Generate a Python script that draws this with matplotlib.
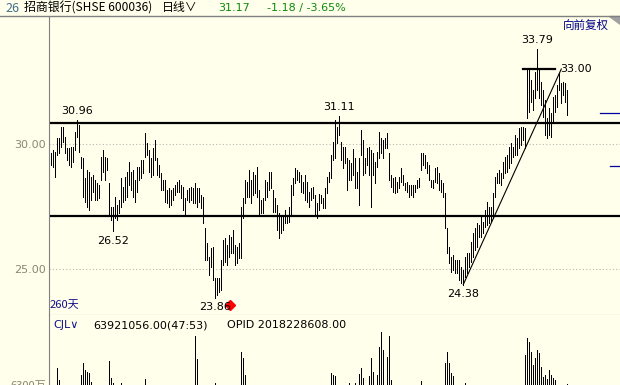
import matplotlib
matplotlib.use('Agg')
import matplotlib.pyplot as plt
from matplotlib.lines import Line2D
from matplotlib.patches import Polygon

plt.rcParams['font.family'] = ['DejaVu Sans', 'Noto Sans CJK SC']

# daily bars, high / low (260 days shown)
highs = [
    29.64, 29.76, 29.68, 30.24, 30.24, 30.68, 30.68, 30.28, 29.84, 29.84,
    29.88, 29.88, 30.48, 30.96, 30.76, 29.48, 29.44, 28.64, 28.96, 28.88,
    28.68, 28.76, 28.56, 28.44, 28.36, 29.48, 29.76, 29.48, 29.44, 28.44,
    27.48, 27.48, 27.88, 27.56, 27.76, 28.64, 28.28, 28.68, 28.88, 29.28,
    28.88, 28.96, 28.56, 29.08, 29.08, 29.36, 29.36, 30.44, 30.04, 29.76,
    29.44, 29.84, 30.16, 29.44, 29.16, 28.84, 28.56, 28.56, 28.16, 28.24,
    28.16, 28.24, 28.36, 28.48, 28.56, 28.36, 28.28, 27.84, 28.16, 28.24,
    28.28, 28.24, 28.44, 28.24, 28.24, 27.96, 27.88, 26.64, 26.04, 25.48,
    25.84, 25.88, 24.64, 24.64, 24.64, 25.36, 26.16, 26.24, 25.96, 26.36,
    26.28, 26.56, 25.96, 25.88, 26.04, 27.48, 27.84, 28.56, 28.48, 28.96,
    28.56, 28.88, 28.76, 29.08, 28.16, 27.76, 27.84, 28.56, 28.48, 28.88,
    28.88, 28.16, 27.84, 27.56, 27.24, 27.16, 27.16, 27.36, 27.16, 27.48,
    28.36, 28.64, 29.04, 28.96, 28.88, 28.76, 28.48, 28.76, 28.48, 28.08,
    28.24, 28.28, 27.96, 27.64, 28.00, 27.96, 27.84, 28.24, 28.68, 28.88,
    29.56, 30.08, 30.96, 30.68, 31.11, 30.08, 29.88, 29.88, 29.44, 29.36,
    29.24, 29.80, 29.44, 28.88, 29.44, 30.56, 30.16, 29.44, 29.84, 29.88,
    29.76, 29.64, 29.28, 29.68, 30.48, 30.24, 30.16, 30.24, 30.44, 29.64,
    28.76, 28.64, 28.68, 28.48, 28.68, 29.04, 28.76, 28.44, 28.48, 28.36,
    28.36, 28.36, 28.36, 28.56, 28.64, 29.64, 29.64, 29.56, 29.28, 29.16,
    28.56, 28.56, 29.04, 29.08, 28.84, 28.56, 28.44, 28.04, 26.64, 25.88,
    25.48, 25.56, 25.36, 25.36, 25.36, 25.08, 24.96, 25.48, 25.64, 25.64,
    26.08, 26.44, 26.64, 26.84, 26.76, 27.08, 26.88, 27.36, 27.68, 27.48,
    27.48, 28.04, 28.68, 28.84, 28.96, 28.84, 29.28, 29.48, 29.56, 29.88,
    30.04, 29.88, 30.36, 30.24, 30.64, 30.68, 30.68, 30.64, 33.04, 33.04,
    32.56, 32.16, 32.88, 33.79, 32.96, 32.48, 32.16, 31.76, 31.04, 31.44,
    31.24, 31.88, 31.96, 32.36, 32.84, 32.44, 32.48, 32.44, 32.16,
]
lows = [
    29.16, 29.08, 28.68, 29.56, 29.64, 29.88, 30.08, 29.64, 29.36, 29.16,
    29.08, 29.28, 29.76, 30.28, 29.68, 29.04, 27.88, 27.68, 27.48, 27.36,
    27.76, 28.08, 27.76, 27.76, 27.84, 28.56, 28.88, 28.56, 28.96, 27.16,
    26.96, 26.52, 27.04, 26.96, 27.24, 27.48, 27.68, 27.76, 27.88, 28.36,
    28.16, 27.88, 27.68, 28.08, 28.56, 28.64, 28.84, 29.48, 29.56, 28.88,
    28.68, 28.76, 29.36, 28.76, 28.68, 28.16, 28.16, 27.68, 27.64, 27.48,
    27.56, 27.76, 27.96, 28.08, 28.08, 27.84, 27.36, 27.16, 27.76, 27.68,
    27.76, 27.64, 27.64, 27.48, 27.68, 27.44, 26.84, 25.36, 25.36, 24.76,
    25.08, 24.56, 23.86, 23.96, 24.08, 24.16, 25.16, 25.28, 25.16, 25.48,
    25.64, 25.64, 25.16, 25.24, 25.44, 25.44, 27.04, 27.64, 27.88, 27.88,
    27.64, 27.96, 28.04, 27.88, 27.12, 27.24, 27.24, 27.76, 27.88, 28.16,
    28.24, 27.28, 27.28, 26.56, 26.24, 26.44, 26.56, 26.84, 26.84, 26.88,
    27.16, 27.96, 28.44, 28.56, 28.48, 28.08, 28.04, 27.76, 27.68, 27.48,
    27.76, 27.84, 27.16, 27.04, 27.36, 27.64, 27.44, 27.44, 28.04, 28.48,
    28.64, 29.36, 29.44, 30.04, 30.36, 29.36, 29.04, 29.24, 28.16, 28.56,
    28.56, 28.76, 28.24, 28.24, 27.56, 29.56, 28.76, 28.84, 29.16, 28.76,
    27.48, 28.76, 28.44, 29.08, 29.44, 29.64, 29.44, 29.84, 29.84, 28.56,
    28.28, 28.08, 28.04, 28.08, 28.24, 28.48, 28.36, 28.16, 28.08, 27.88,
    27.96, 27.88, 28.08, 28.24, 28.28, 28.96, 29.16, 29.04, 28.84, 28.56,
    28.28, 28.24, 28.48, 28.44, 28.16, 28.08, 27.88, 26.64, 25.64, 25.24,
    24.88, 24.96, 24.84, 24.84, 24.56, 24.44, 24.38, 24.68, 24.84, 25.08,
    25.28, 25.48, 25.76, 25.88, 26.28, 26.28, 26.44, 26.68, 26.76, 26.84,
    26.88, 27.04, 27.88, 28.44, 28.44, 28.36, 28.64, 28.84, 28.88, 29.04,
    29.24, 29.48, 29.56, 29.56, 29.84, 29.96, 30.16, 29.84, 31.04, 31.28,
    31.68, 31.36, 31.84, 32.16, 31.84, 31.56, 31.08, 30.36, 30.24, 30.36,
    30.28, 30.88, 31.28, 31.48, 32.16, 31.64, 31.96, 31.68, 31.16,
]
# volume in 万 shares
volume = [
    4200, 3900, 5100, 7660, 6700, 4800, 4100, 3600, 3800, 4500,
    3900, 4200, 5200, 5800, 5600, 7100, 8060, 7500, 7340, 7260,
    6540, 5400, 4700, 4300, 4100, 5900, 5200, 4600, 4400, 8220,
    6860, 6460, 5700, 4900, 5500, 6460, 4800, 4500, 4300, 5100,
    4200, 4600, 4400, 4900, 4100, 3800, 4600, 6780, 5300, 4700,
    4400, 4900, 5600, 4500, 4200, 4000, 3700, 4100, 3900, 3600,
    3500, 3800, 3400, 3600, 3900, 3700, 4300, 5200, 3800, 3600,
    3900, 4800, 10220, 8380, 5800, 4900, 5600, 6200, 5400, 5800,
    5100, 5900, 6460, 5600, 5200, 5900, 5400, 4900, 4600, 4800,
    4400, 5300, 4700, 4500, 4900, 8940, 8460, 7100, 6100, 5200,
    4800, 5100, 4600, 5300, 5700, 4600, 4200, 4800, 4400, 4600,
    4300, 4900, 4200, 5100, 5400, 4600, 4200, 4100, 3900, 4300,
    4800, 4500, 4700, 4200, 3900, 4000, 3800, 4300, 4100, 4500,
    3900, 3800, 4600, 4400, 4100, 3700, 3900, 4600, 5200, 5800,
    7260, 7100, 7020, 5600, 6100, 5900, 5500, 5000, 5800, 6460,
    5400, 5100, 6460, 5700, 7180, 7660, 6860, 5900, 5600, 7020,
    8460, 7340, 6000, 7100, 9340, 10540, 9100, 6200, 8540, 10220,
    6700, 5900, 5200, 4800, 4600, 5100, 4700, 4400, 4200, 4300,
    4100, 3900, 4200, 4500, 4800, 6620, 5600, 5100, 4600, 4700,
    4200, 4400, 4800, 4600, 4300, 4700, 5200, 8060, 8940, 8060,
    7260, 7020, 5800, 5400, 6000, 5600, 5900, 6460, 5800, 5300,
    5600, 5200, 5000, 4700, 4800, 5200, 4600, 5000, 5400, 4900,
    5100, 5700, 5300, 4800, 4600, 5400, 5200, 5600, 5000, 5300,
    5500, 4900, 5400, 5800, 5600, 5900, 6000, 8700, 10060, 9740,
    8940, 7900, 8460, 9100, 8860, 7740, 6940, 7100, 6780, 7500,
    7100, 6860, 6700, 5900, 5600, 5400, 5800, 6100, 6392,
]

# drawn lines
channel_levels = [30.84, 27.13]
trend_idx = [206, 255]
trend_val = [24.38, 33.00]
top_level = 33.00
top_span = [236, 252]
right_marks = [31.24, 29.12]
# labelled extremes: (bar index, 'H' high or 'L' low)
extremes = [(13, 'H'), (31, 'L'), (82, 'L'), (144, 'H'), (206, 'L'), (243, 'H')]
marker_idx, marker_val = 89.5, 23.58

BG = '#ffffeb'
GRAY = '#808080'
GREEN = '#0a8a0a'
NAVY = '#10108c'

W, H = 620, 385
fig = plt.figure(figsize=(6.2, 3.85), dpi=100, facecolor=BG)

def fx(px):
    return px / W

def fy(py):
    return 1 - py / H

idx = list(range(len(highs)))

# price panel
ax = fig.add_axes([fx(49), fy(315), (620 - 49) / W, (315 - 16) / H])
ax.set_facecolor(BG)
ax.set_xlim(-1.15, 284.35)
ax.set_ylim(23.16, 35.12)
ax.vlines(idx, lows, highs, colors='black', linewidth=0.72, antialiased=False)
for lv in channel_levels:
    ax.axhline(lv, color='black', linewidth=1.6)
ax.plot(trend_idx, trend_val, color='black', linewidth=0.8)
ax.plot(top_span, [top_level, top_level], color='black', linewidth=1.6)
ax.annotate(f'{top_level:.2f}', (trend_idx[1], trend_val[1]), xytext=(-1, 0),
            textcoords='offset points', ha='left', va='center', fontsize=8)
for lv, start in zip(right_marks, [274.5, 279.5]):
    ax.plot([start, 284.35], [lv, lv], color='#0000a0', linewidth=0.9)

for i, kind in extremes:
    if kind == 'H':
        v, dy = highs[i], 6.5
    else:
        v, dy = lows[i], -7
    ax.annotate(f'{v:.2f}', (i, v), xytext=(0, dy), textcoords='offset points',
                ha='center', va='center', fontsize=8)
ax.plot(marker_idx, marker_val, marker='D', color='red', markersize=5)

ax.set_yticks([25, 30])
ax.set_yticklabels(['25.00', '30.00'])
ax.tick_params(axis='y', length=0, pad=2, labelsize=8, labelcolor='#8a8672')
ax.set_xticks([])
ax.grid(axis='y', color='#b8b8b8', linestyle=(0, (1, 2)), linewidth=0.8)
for s in ['top', 'right']:
    ax.spines[s].set_visible(False)
ax.spines['left'].set_color(GRAY)
ax.spines['bottom'].set_color(GRAY)

# volume panel
vax = fig.add_axes([fx(49), 0, (620 - 49) / W, 70 / H])
vax.set_facecolor(BG)
vax.set_xlim(-1.15, 284.35)
vax.set_ylim(6300, 11900)
vax.vlines(idx, 0, volume, colors='black', linewidth=0.72, antialiased=False)
vax.set_xticks([])
vax.set_yticks([])
for s in ['top', 'right', 'bottom']:
    vax.spines[s].set_visible(False)
vax.spines['left'].set_color(GRAY)

# header bar
fig.add_artist(Line2D([0, 1], [fy(16), fy(16)], color=GRAY, linewidth=1))
fig.add_artist(Polygon([[fx(609), fy(16)], [fx(620), fy(16)], [fx(620), fy(24)]],
                       closed=True, color='#a0a0a0'))
cjk = ['Noto Sans CJK SC', 'DejaVu Sans']
fig.text(fx(5), fy(8), '26', color='#41708f', fontsize=9, va='center', family=cjk)
fig.text(fx(24), fy(8), '招商银行(SHSE 600036)', color='black', fontsize=8.6,
         va='center', family=cjk)
fig.text(fx(162), fy(8), '日线∨', color='black', fontsize=8.6, va='center', family=cjk)
fig.text(fx(218), fy(8), '31.17', color=GREEN, fontsize=8, va='center')
fig.text(fx(267), fy(8), '-1.18 / -3.65%', color=GREEN, fontsize=8, va='center')
fig.text(fx(563), fy(25), '向前复权', color='#00008b', fontsize=8.3, va='center', family=cjk)
fig.text(fx(50), fy(305), '260天', color=NAVY, fontsize=8, va='center', family=cjk)

fig.text(fx(53), fy(325), 'CJL∨', color=NAVY, fontsize=8, va='center')
fig.text(fx(93), fy(325), '63921056.00(47:53)', color='black', fontsize=8, va='center')
fig.text(fx(227), fy(325), 'OPID 2018228608.00', color='black', fontsize=8, va='center')
fig.text(fx(46), fy(381), '6300万', color='#8a8672', fontsize=8, ha='right', va='top',
         family=cjk)

fig.savefig('out.png', dpi=100, facecolor=BG)
